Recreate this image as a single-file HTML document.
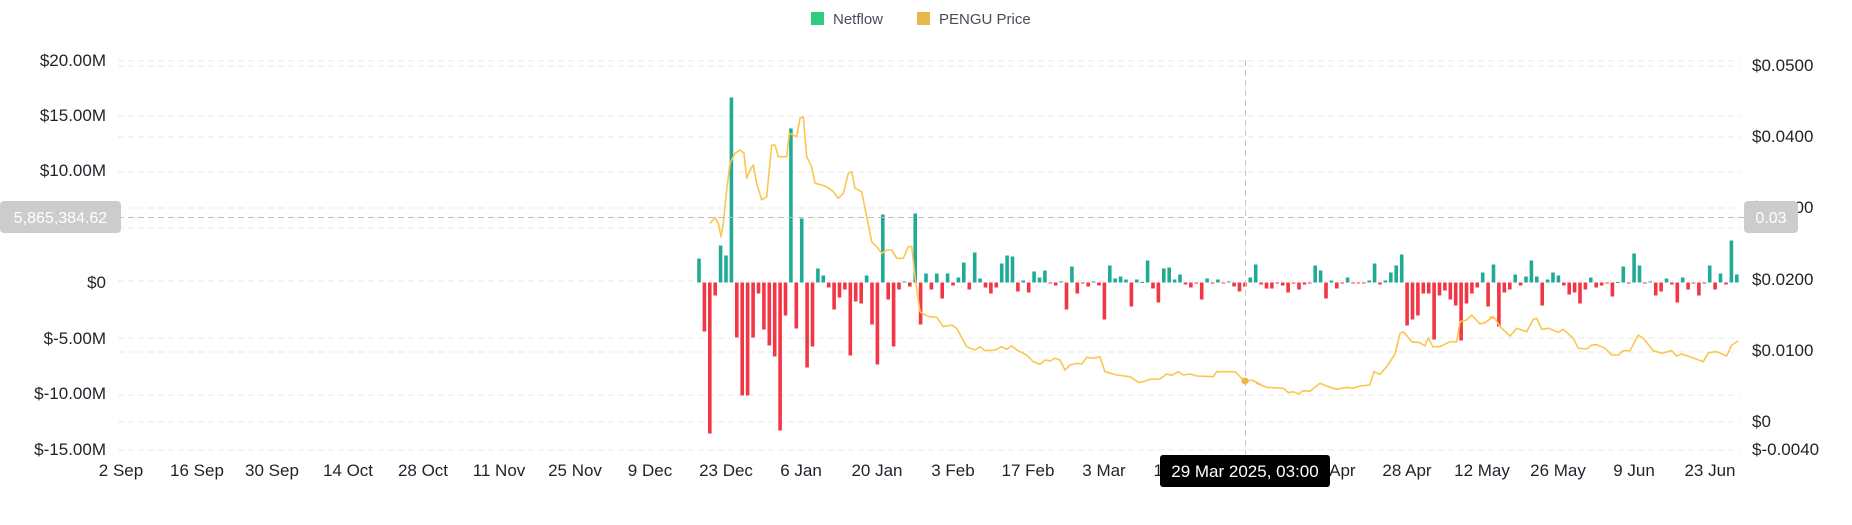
<!DOCTYPE html>
<html><head><meta charset="utf-8">
<style>
html,body{margin:0;padding:0;background:#fff;width:1852px;height:525px;overflow:hidden}
svg{display:block}
text{font-family:"Liberation Sans",sans-serif}
</style></head>
<body>
<svg id="c" width="1852" height="525" viewBox="0 0 1852 525" xmlns="http://www.w3.org/2000/svg">
<g stroke="#e8e8e8" stroke-width="1" stroke-dasharray="6,4">
<line x1="118" x2="1740" y1="61" y2="61"/><line x1="118" x2="1740" y1="66" y2="66"/>
<line x1="118" x2="1740" y1="116" y2="116"/><line x1="118" x2="1740" y1="137" y2="137"/>
<line x1="118" x2="1740" y1="172" y2="172"/><line x1="118" x2="1740" y1="208" y2="208"/>
<line x1="118" x2="1740" y1="228" y2="228"/><line x1="118" x2="1740" y1="281" y2="281"/>
<line x1="118" x2="1740" y1="338" y2="338"/><line x1="118" x2="1740" y1="352" y2="352"/>
<line x1="118" x2="1740" y1="395" y2="395"/><line x1="118" x2="1740" y1="422" y2="422"/>
<line x1="118" x2="1740" y1="450" y2="450"/>
</g>
<g id="bars"></g>
<polyline id="price" fill="none" stroke="#f9c74f" stroke-width="1.6" stroke-linejoin="round"/>
<line x1="118" x2="1745" y1="217.5" y2="217.5" stroke="#bdbdbd" stroke-dasharray="6,4"/>
<line x1="1245.5" x2="1245.5" y1="60" y2="455" stroke="#c8c8c8" stroke-dasharray="6,4"/>
<circle cx="1245" cy="381" r="3.5" fill="#e8b84a"/>
<g font-size="17" fill="#1e2329" text-anchor="end">
<text x="106" y="66">$20.00M</text><text x="106" y="121">$15.00M</text><text x="106" y="176">$10.00M</text>
<text x="106" y="288">$0</text><text x="106" y="344">$-5.00M</text><text x="106" y="399">$-10.00M</text><text x="106" y="455">$-15.00M</text>
</g>
<g font-size="17" fill="#1e2329">
<text x="1752" y="71">$0.0500</text><text x="1752" y="142">$0.0400</text><text x="1752" y="213">$0.0300</text>
<text x="1752" y="285">$0.0200</text><text x="1752" y="356">$0.0100</text><text x="1752" y="427">$0</text><text x="1752" y="455">$-0.0040</text>
</g>
<g font-size="17" fill="#1e2329" text-anchor="middle">
<text x="121" y="476">2 Sep</text><text x="197" y="476">16 Sep</text><text x="272" y="476">30 Sep</text><text x="348" y="476">14 Oct</text>
<text x="423" y="476">28 Oct</text><text x="499" y="476">11 Nov</text><text x="575" y="476">25 Nov</text><text x="650" y="476">9 Dec</text>
<text x="726" y="476">23 Dec</text><text x="801" y="476">6 Jan</text><text x="877" y="476">20 Jan</text><text x="953" y="476">3 Feb</text>
<text x="1028" y="476">17 Feb</text><text x="1104" y="476">3 Mar</text><text x="1180" y="476">17 Mar</text><text x="1331" y="476">14 Apr</text>
<text x="1407" y="476">28 Apr</text><text x="1482" y="476">12 May</text><text x="1558" y="476">26 May</text><text x="1634" y="476">9 Jun</text><text x="1710" y="476">23 Jun</text>
</g>
<rect x="0" y="201" width="121" height="32" rx="4" fill="#cccccc"/>
<text x="60.5" y="223" font-size="16" fill="#fff" text-anchor="middle">5,865,384.62</text>
<rect x="1744" y="201" width="54" height="32" rx="4" fill="#cccccc"/>
<text x="1771" y="223" font-size="16" fill="#fff" text-anchor="middle">0.03</text>
<rect x="1160" y="455" width="170" height="32" rx="3" fill="#000"/>
<text x="1245" y="477" font-size="17" fill="#fff" text-anchor="middle">29 Mar 2025, 03:00</text>
<rect x="811" y="12" width="13" height="13" fill="#2ecc7f"/>
<text x="833" y="24" font-size="15" fill="#474d57">Netflow</text>
<rect x="917" y="12" width="13" height="13" fill="#e8b84a"/>
<text x="939" y="24" font-size="15" fill="#474d57">PENGU Price</text>
</svg>
<script>
var d=[-24,49,151,13,-37,-27,-185,55,113,113,55,11,47,63,74,148,33,-154,46,-64,85,64,-14,-7,5,27,15,7,73,19,21,-7,42,82,-68,17,64,7,-1,4,-69,42,-9,7,-9,
16,-9,3,-5,-20,7,-30,-4,5,11,5,-19,-27,-26,9,-2,10,-11,-5,-12,1,3,-1,27,-16,11,1,4,-1,3,37,-17,-4,-6,-3,24,-3,0,-22,6,20,-14,-15,-3,-8,2,5,1,17,-4,1,-3,1,-1,4,9,4,-5,-18,
2,6,6,1,3,10,1,7,2,1,-17,-12,16,-2,6,1,-5,1,1,1,-2,-19,2,-2,-10,-17,-28,43,37,33,11,11,57,13,8,17,23,58,21,11,5,-10,24,-18,44,
10,7,-8,3,-6,-22,-6,23,-3,-10,-7,3,12,10,21,7,-5,5,3,1,14,0,-16,1,-29,-17,1,-1,13,9,-4,2,20,-5,7,1,13,1,-17,7,-9,2,-42,-8];
var z=282.5,s='';
for(var i=0;i<d.length;i++){var x=699+i*5.405-1.8,v=d[i];
if(v<0)s+='<rect x="'+x.toFixed(1)+'" y="'+(z+v)+'" width="3.6" height="'+(-v)+'" fill="#22ab94"/>';
else if(v>0)s+='<rect x="'+x.toFixed(1)+'" y="'+z+'" width="3.6" height="'+v+'" fill="#f23645"/>';
else s+='<rect x="'+x.toFixed(1)+'" y="'+(z-0.5)+'" width="3.6" height="1" fill="#22ab94"/>';}
document.getElementById('bars').innerHTML=s;
function seg(ox,oy,a){return a.map(function(p){return (ox+p[0]/3).toFixed(1)+','+(oy+p[1]/3).toFixed(1)});}
var p=[].concat(
seg(690,90,[[60,400],[75,383],[85,400],[93,440],[100,400],[110,300],[120,220],[135,190],[150,180],[162,190],[170,265],[180,240],[190,225],[200,280],[215,330],[230,320],[245,165],[255,165],[265,200],[290,200],[298,130],[320,140],[330,85],[340,80],[350,200],[365,230],[375,280],[395,285],[410,290],[430,305],[445,325],[460,310],[475,250],[485,245],[495,295],[515,305],[530,380],[545,455],[560,470],[575,490],[590,480],[605,480],[620,505],[640,505],[655,470],[665,470],[675,560],[690,665],[705,675],[720,680],[740,682]]),
seg(930,230,[[20,262],[40,290],[65,285],[80,295],[110,350],[135,360],[150,350],[165,362],[195,360],[215,350],[230,358],[245,347],[260,360],[290,375],[310,395],[330,403],[345,390],[360,393],[375,385],[390,390],[405,420],[420,405],[440,400],[455,402],[470,382],[490,385],[510,380],[525,425],[560,435],[600,440],[625,457],[640,455],[660,448],[690,447],[710,432],[725,436],[745,425],[760,435],[780,432],[800,438],[850,440],[860,425],[880,425],[915,425],[945,455],[965,450],[990,462]]),
seg(1250,230,[[20,460],[50,472],[100,475],[115,488],[130,485],[145,492],[160,482],[180,484],[210,460],[235,470],[260,478],[290,472],[310,475],[330,468],[360,465],[372,425],[390,433],[410,410],[435,372],[450,310],[460,305],[485,335],[510,338],[525,348],[535,323],[548,350],[570,350],[600,335],[620,335],[630,275],[650,270],[665,255],[690,282],[705,278],[730,260]]),
seg(1490,230,[[0,262],[15,265],[30,290],[60,318],[80,295],[110,305],[130,268],[140,265],[155,298],[175,295],[205,307],[220,298],[250,325],[265,355],[290,357],[305,345],[320,344],[345,355],[365,375],[385,375],[400,362],[420,362],[445,315],[460,325],[490,362],[515,370],[545,362],[560,378],[575,372],[600,380],[640,395],[655,368],[680,365],[710,378],[725,345],[745,333]]));
document.getElementById('price').setAttribute('points',p.join(' '));
</script>
</body></html>
